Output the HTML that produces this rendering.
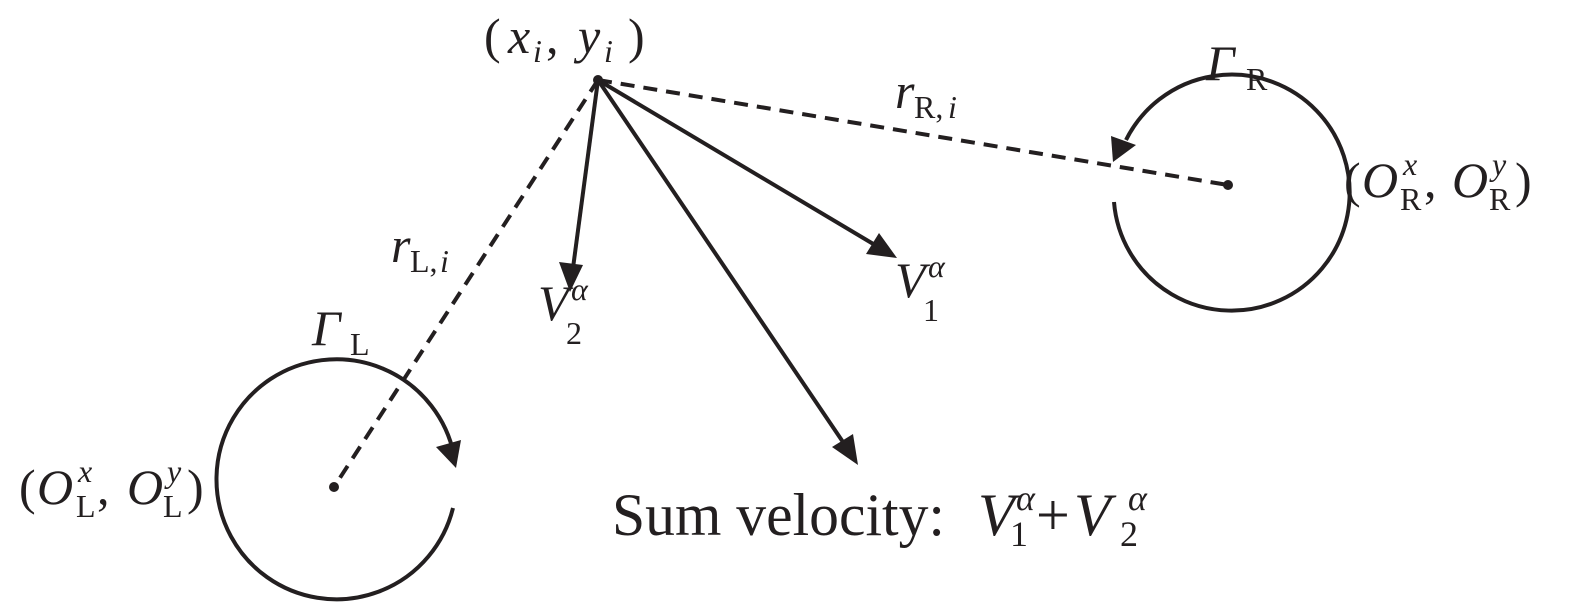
<!DOCTYPE html>
<html><head><style>body{margin:0;background:#fff}svg{display:block}text{font-family:"Liberation Serif",serif;fill:#231f20}.i{font-style:italic}.s{font-size:32px}.t{font-size:36px}</style></head><body>
<svg width="1575" height="606" viewBox="0 0 1575 606" xmlns="http://www.w3.org/2000/svg">
<g stroke="#231f20" stroke-width="4" fill="none">
<path d="M453,508 A120,120 0 1 1 454,455"/>
<path d="M1114,202 A118,118 0 1 0 1126,140"/>
<line x1="598" y1="80" x2="334" y2="487" stroke-dasharray="14,9"/>
<line x1="598" y1="80" x2="1228" y2="185" stroke-dasharray="14,9"/>
<line x1="598" y1="80" x2="573" y2="268"/>
<line x1="598" y1="80" x2="875" y2="245"/>
<line x1="598" y1="80" x2="845" y2="445"/>
</g>
<g fill="#231f20">
<circle cx="598" cy="80" r="5"/><circle cx="334" cy="487" r="5"/><circle cx="1228" cy="185" r="5"/>
<polygon points="570,292 559,262 583,265"/>
<polygon points="897,258 866,254 879,233"/>
<polygon points="858,465 832,447 853,434"/>
<polygon points="456,468 436,447 461,440"/>
<polygon points="1113,162 1111,136 1136,145"/>
</g>
<g font-size="50">
<text x="484" y="53">(</text><text x="508" y="53" class="i">x</text><text x="533" y="62" class="i s">i</text><text x="546" y="53">,</text><text x="578" y="53" class="i">y</text><text x="604" y="62" class="i s">i</text><text x="628" y="53">)</text>
<text x="1206" y="80" class="i">Γ</text><text x="1246" y="90" class="s">R</text>
<text x="312" y="345" class="i">Γ</text><text x="350" y="355" class="s">L</text>
<text x="895" y="108" class="i">r</text><text x="914" y="118" class="s">R,</text><text x="948" y="118" class="i s">i</text>
<text x="391" y="262" class="i">r</text><text x="410" y="272" class="s">L,</text><text x="440" y="272" class="i s">i</text>
<text x="538" y="320" class="i">V</text><text x="571" y="300" class="i s">α</text><text x="566" y="344" class="s">2</text>
<text x="895" y="297" class="i">V</text><text x="928" y="277" class="i s">α</text><text x="923" y="321" class="s">1</text>
<text x="1344" y="197">(</text><text x="1362" y="197" class="i">O</text><text x="1403" y="175" class="i s">x</text><text x="1400" y="210" class="s">R</text><text x="1424" y="197">,</text><text x="1452" y="197" class="i">O</text><text x="1492" y="175" class="i s">y</text><text x="1489" y="210" class="s">R</text><text x="1515" y="197">)</text>
<text x="19" y="504">(</text><text x="37" y="504" class="i">O</text><text x="78" y="482" class="i s">x</text><text x="76" y="517" class="s">L</text><text x="97" y="504">,</text><text x="127" y="504" class="i">O</text><text x="167" y="482" class="i s">y</text><text x="163" y="517" class="s">L</text><text x="187" y="504">)</text>
</g>
<g font-size="60">
<text x="612" y="535" textLength="333" lengthAdjust="spacingAndGlyphs">Sum velocity:</text>
<text x="978" y="535" class="i">V</text><text x="1016" y="510" class="i t">α</text><text x="1010" y="546" class="t">1</text>
<text x="1036" y="535">+</text>
<text x="1074" y="535" class="i">V</text><text x="1128" y="510" class="i t">α</text><text x="1120" y="546" class="t">2</text>
</g>
</svg>
</body></html>
